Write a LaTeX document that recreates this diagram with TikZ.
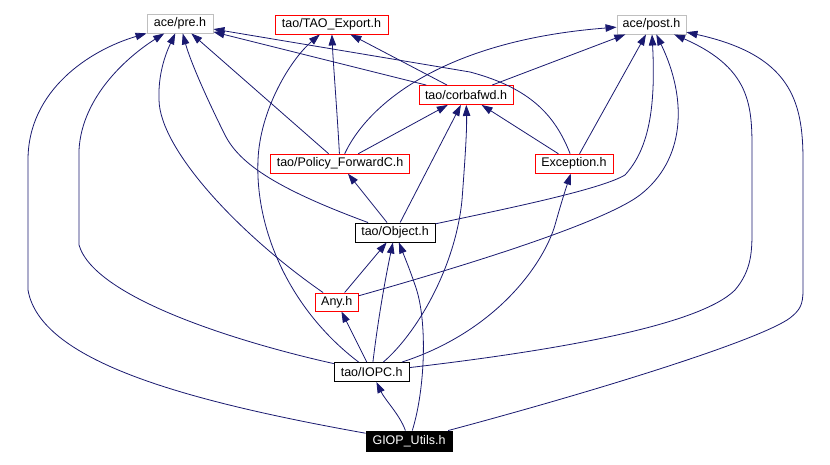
\documentclass[tikz,border=0pt]{standalone}
\usepackage{fontspec}
\setmainfont{Liberation Sans}
\usetikzlibrary{arrows.meta}
\definecolor{edgec}{RGB}{25,25,112}
\definecolor{grayb}{RGB}{191,191,191}
\begin{document}
\begin{tikzpicture}[x=1pt,y=-1pt,
  box/.style={draw, rectangle, inner sep=0pt, minimum height=19pt, line width=0.9pt,
    font=\fontsize{12.5}{14}\selectfont},
  graybox/.style={box, draw=grayb},
  redbox/.style={box, draw=red},
  blackbox/.style={box, draw=black},
  dep/.style={draw=edgec, line width=0.8pt, -{Triangle[length=11pt,width=7.5pt]}}]
\useasboundingbox (0,0) rectangle (830,465);
\fill[white] (0,0) rectangle (830,465);

\node[graybox, minimum width=66pt] (pre) at (180,23.5) {ace/pre.h};
\node[redbox, minimum width=113pt] (tao) at (331.5,24.5) {tao/TAO\_Export.h};
\node[graybox, minimum width=69pt] (post) at (651.5,24.5) {ace/post.h};
\node[redbox, minimum width=94pt] (corba) at (466,95) {tao/corbafwd.h};
\node[redbox, minimum width=139pt] (policy) at (340,163.7) {tao/Policy\_ForwardC.h};
\node[redbox, minimum width=78pt] (exc) at (574,163.7) {Exception.h};
\node[blackbox, minimum width=80pt] (obj) at (395,232.5) {tao/Object.h};
\node[redbox, minimum width=43pt, minimum height=18pt] (any) at (336.7,302) {Any.h};
\node[blackbox, minimum width=75pt] (iopc) at (371.7,372) {tao/IOPC.h};
\node[blackbox, fill=black, text=white, minimum width=86pt, minimum height=20pt] (giop) at (409,441) {GIOP\_Utils.h};

% to ace/pre.h
\draw[dep] (giop) .. controls (180,400) and (40,360) .. (28,290) -- (28,160) .. controls (28,90) and (90,50) .. (pre);
\draw[dep] (iopc) .. controls (250,345) and (95,300) .. (79,245) -- (79,150) .. controls (82,95) and (130,55) .. (pre);
\draw[dep] (any) .. controls (240,235) and (160,150) .. (159,100) .. controls (158,75) and (165,55) .. (pre);
\draw[dep] (obj) .. controls (280,190) and (240,165) .. (225,135) .. controls (205,95) and (190,60) .. (pre);
\draw[dep] (policy) -- (pre);
\draw[dep] (corba) -- (pre);
\draw[dep] (exc) .. controls (555,115) and (530,88) .. (470,72) -- (pre);

% to tao/TAO_Export.h
\draw[dep] (corba) -- (tao);
\draw[dep] (policy) .. controls (337,110) and (333,60) .. (tao);
\draw[dep] (iopc) .. controls (290,310) and (255,230) .. (258,160) .. controls (260,110) and (290,60) .. (tao);

% to ace/post.h
\draw[dep] (policy) .. controls (370,100) and (450,40) .. (post);
\draw[dep] (corba) -- (post);
\draw[dep] (exc) -- (post);
\draw[dep] (obj) .. controls (500,210) and (600,190) .. (625,175) .. controls (648,150) and (656,110) .. (post);
\draw[dep] (any) .. controls (450,270) and (600,225) .. (640,195) .. controls (685,160) and (688,100) .. (post);
\draw[dep] (iopc) .. controls (560,350) and (700,325) .. (735,290) .. controls (752,270) and (752,250) .. (752,230) -- (752,160) .. controls (752,110) and (755,70) .. (post);
\draw[dep] (giop) .. controls (600,390) and (760,340) .. (790,318) .. controls (800,310) and (803,305) .. (803,290) -- (803,160) .. controls (803,100) and (790,55) .. (post);

% to tao/corbafwd.h
\draw[dep] (policy) -- (corba);
\draw[dep] (obj) -- (corba);
\draw[dep] (iopc) .. controls (415,335) and (455,270) .. (462,200) .. controls (465,160) and (467,130) .. (corba);
\draw[dep] (exc) -- (corba);

% to tao/Policy_ForwardC.h
\draw[dep] (obj) -- (policy);

% to Exception.h
\draw[dep] (iopc) .. controls (500,330) and (545,260) .. (555,225) .. controls (562,200) and (567,185) .. (exc);

% to tao/Object.h
\draw[dep] (any) -- (obj);
\draw[dep] (iopc) .. controls (378,320) and (385,280) .. (obj);
\draw[dep] (giop) .. controls (425,390) and (428,320) .. (415,285) .. controls (410,270) and (405,258) .. (obj);

% to Any.h
\draw[dep] (iopc) -- (any);

% to tao/IOPC.h
\draw[dep] (giop) .. controls (400,415) and (385,400) .. (iopc);
\end{tikzpicture}
\end{document}
